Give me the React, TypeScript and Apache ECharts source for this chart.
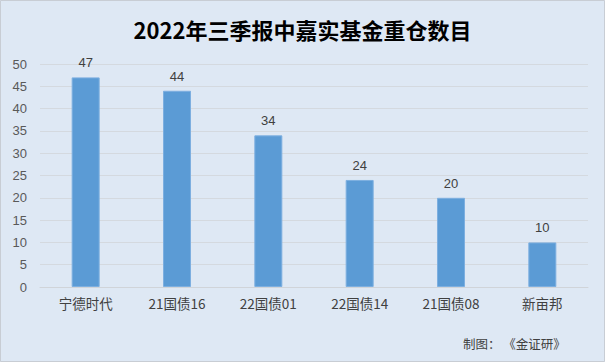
import React, { useEffect, useRef } from "react";
import * as echarts from "echarts";

const categories = ["宁德时代", "21国债16", "22国债01", "22国债14", "21国债08", "新亩邦"];
const values = [47, 44, 34, 24, 20, 10];
const titleText = "2022年三季报中嘉实基金重仓数目";
const sourceText = "制图： 《金证研》";

export default function App() {
  const ref = useRef<HTMLDivElement>(null);
  useEffect(() => {
    document.body.style.margin = "0";
    const chart = echarts.init(ref.current!, null, { renderer: "svg" });
    chart.setOption({
      animation: false,
      backgroundColor: "#DEE8F4",
      title: {
        text: titleText,
        left: "center",
        top: 13,
        textStyle: { fontSize: 22, fontWeight: "bold", color: "#000", fontFamily: "Noto Sans CJK SC" },
      },
      graphic: [
        {
          type: "rect",
          shape: { x: 0.5, y: 0.5, width: 604, height: 361 },
          style: { fill: "none", stroke: "#C8CDD4", lineWidth: 1 },
          silent: true,
        },
        {
          type: "text",
          left: 463,
          top: 337,
          style: { text: sourceText, fontSize: 12.5, fill: "#404040", fontFamily: "Noto Sans CJK SC" },
        },
      ],
      grid: { left: 40, right: 17, top: 64, bottom: 75 },
      xAxis: {
        type: "category",
        data: categories,
        axisTick: { show: false },
        axisLine: { lineStyle: { color: "#D0D4D9", width: 1 } },
        axisLabel: { color: "#404040", fontSize: 13.5, margin: 9, fontFamily: "Noto Sans CJK SC" },
      },
      yAxis: {
        type: "value",
        min: 0,
        max: 50,
        interval: 5,
        axisLine: { show: false },
        axisTick: { show: false },
        splitLine: { lineStyle: { color: "#D4D9DF", width: 1 } },
        axisLabel: { color: "#595959", fontSize: 13, margin: 13, fontFamily: "Liberation Sans" },
      },
      series: [
        {
          type: "bar",
          data: values,
          barWidth: 28,
          itemStyle: { color: "#5B9BD5", borderColor: "#7DAFE0", borderWidth: 1 },
          label: {
            show: true,
            position: "top",
            distance: 8,
            color: "#404040",
            fontSize: 13,
            fontFamily: "Liberation Sans",
          },
        },
      ],
    });
    return () => chart.dispose();
  }, []);
  return <div ref={ref} style={{ width: 605, height: 362 }} />;
}
